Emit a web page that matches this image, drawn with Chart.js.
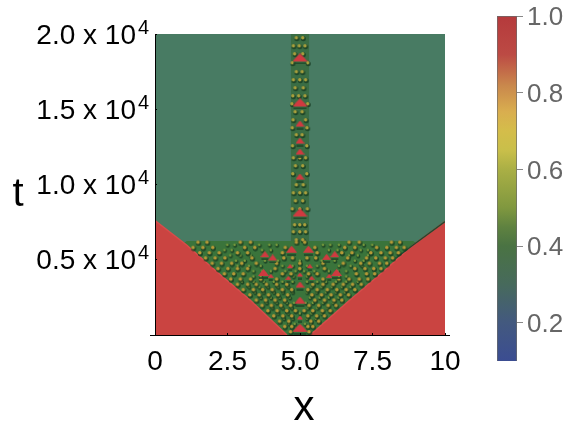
<!DOCTYPE html>
<html>
<head>
<meta charset="utf-8">
<script src="https://cdn.jsdelivr.net/npm/chart.js@4"></script>
<style>
  html, body { margin: 0; padding: 0; background: #fff; }
  #wrap { position: relative; width: 566px; height: 423px; overflow: hidden; }
  canvas { position: absolute; top: 0; }
  #main { left: 0; }
  #bar { left: 480px; }
</style>
</head>
<body>
<div id="wrap">
  <canvas id="main" width="566" height="423"></canvas>
  <canvas id="bar" width="86" height="423"></canvas>
</div>
<script>
// axes
const xTicks = [0, 2.5, 5, 7.5, 10];
const xTickLabels = ['0', '2.5', '5.0', '7.5', '10'];
const tTicks = [0, 5000, 10000, 15000, 20000];
const tTickLabels = ['', '0.5 x 10', '1.0 x 10', '1.5 x 10', '2.0 x 10'];
const tExponent = '4';

// red wedges, read along the edges
const leftEdgeX = [0, 1.09, 2.13, 3.28, 4.55];
const leftEdgeT = [7600, 5980, 4200, 2325, 0];
const rightEdgeX = [5.35, 6.72, 7.87, 8.9, 10];
const rightEdgeT = [0, 2325, 4200, 5980, 7530];
const darkEdgeX = [8.3, 8.9, 10];
const darkEdgeT = [5100, 5980, 7530];

// darker regions behind the dots
const bandX = [4.68, 5.32];
const bandT = [20000, 20000];
const coneX = [0.9, 1.1, 8.9, 9.1];
const coneT = [6000, 6250, 6250, 6000];
const fieldX = [0, 10];
const fieldT = [20000, 20000];

// dots in the cone, row by row
const coneRowT = [6150, 5800, 5450, 5100, 4750, 4400, 4050, 3700, 3350, 3000, 2650, 2300, 1950, 1600, 1250, 900, 550, 200];
const coneRowX = [
  [1.49, 1.80, 2.95, 3.3, 4.88, 5.17, 6.7, 7.05, 8.16, 8.45],
  [1.32, 1.66, 2.0, 3.1, 3.45, 4.5, 5.52, 6.55, 6.9, 7.65, 8.0, 8.33, 8.6],
  [1.55, 1.88, 2.22, 2.85, 3.2, 4.4, 5.6, 6.45, 6.8, 7.45, 7.8, 8.12, 8.4],
  [1.75, 2.08, 2.42, 3.35, 4.45, 4.75, 5.25, 5.55, 6.65, 7.3, 7.62, 7.95, 8.2],
  [1.98, 2.3, 2.65, 3.0, 3.5, 4.2, 5.0, 5.8, 6.5, 7.1, 7.4, 7.75, 8.0],
  [2.18, 2.52, 2.85, 3.2, 4.15, 5.0, 5.85, 6.9, 7.25, 7.55, 7.8],
  [2.4, 2.72, 3.05, 4.4, 4.7, 5.3, 5.6, 6.95, 7.3, 7.58],
  [2.62, 2.95, 3.3, 3.65, 4.2, 5.8, 6.35, 6.7, 7.05, 7.35],
  [2.85, 3.2, 3.5, 3.85, 4.2, 4.55, 5.45, 5.8, 6.15, 6.5, 6.82, 7.12],
  [3.05, 3.4, 3.72, 4.05, 4.4, 4.72, 5.28, 5.6, 5.95, 6.28, 6.6, 6.9],
  [3.28, 3.6, 3.92, 4.25, 4.58, 5.42, 5.75, 6.08, 6.4, 6.68],
  [3.5, 3.82, 4.15, 4.48, 5.52, 5.85, 6.18, 6.45],
  [3.7, 4.02, 4.35, 4.68, 5.32, 5.65, 5.98, 6.25],
  [3.9, 4.22, 4.55, 4.85, 5.15, 5.45, 5.78, 6.05],
  [4.1, 4.42, 4.72, 5.28, 5.58, 5.85],
  [4.3, 4.62, 5.38, 5.65],
  [4.48, 4.72, 5.28, 5.45],
  [4.68, 5.32]
];

// fainter dots between those rows
const dimRowT = [5975, 5625, 5275, 4925, 4575, 4225, 3875, 3525, 3175, 2825, 2475, 2125, 1775, 1425, 1075, 725];
const dimRowX = [
  [2.5, 2.75, 3.6, 3.95, 4.2, 5.8, 6.05, 6.35, 7.2, 7.5],
  [2.4, 2.65, 3.7, 4.0, 6.0, 6.3, 7.1, 7.35],
  [2.6, 2.95, 3.3, 6.7, 7.0, 7.35],
  [2.8, 3.1, 3.8, 4.25, 5.0, 5.75, 6.2, 6.9, 7.2],
  [2.85, 3.25, 3.65, 4.4, 4.75, 5.25, 5.6, 6.35, 6.75, 7.15],
  [3.4, 3.7, 4.0, 4.5, 4.85, 5.15, 5.5, 6.0, 6.3, 6.6],
  [3.4, 3.65, 4.78, 5.25, 6.35, 6.6],
  [3.0, 3.4, 3.75, 4.1, 4.4, 4.75, 5.25, 5.6, 5.9, 6.25, 6.6, 7.0],
  [3.25, 3.6, 3.9, 4.25, 4.6, 5.4, 5.75, 6.1, 6.45, 6.75],
  [3.45, 3.75, 4.1, 4.42, 4.75, 5.25, 5.58, 5.9, 6.25, 6.55],
  [3.65, 4.0, 4.3, 4.65, 5.35, 5.68, 6.0, 6.33],
  [3.85, 4.2, 4.55, 4.8, 5.2, 5.45, 5.8, 6.15],
  [4.05, 4.4, 4.72, 5.28, 5.6, 5.95],
  [4.25, 4.6, 5.0, 5.4, 5.75],
  [4.45, 4.75, 5.25, 5.55],
  [4.62, 4.82, 5.18, 5.38]
];

// dots in the vertical column
const columnRowT = [19735, 19200, 18670, 18075, 17480, 16945, 16410, 15880, 15350, 14820, 14285, 13755, 13290, 12560, 11760, 11230, 10700, 9970, 9435, 8900, 8370, 7310, 6845, 6310];
const columnRowX = [
  [4.88, 5.1], [4.78, 4.98, 5.18], [4.82, 5.1], [4.74, 5.27], [4.88, 5.08],
  [4.78, 5.0, 5.2], [4.84, 5.12], [4.76, 4.96, 5.18], [4.73, 5.27], [4.84, 5.08],
  [4.77, 5.2], [4.74, 5.25], [4.88, 5.08], [4.75, 5.24], [4.78, 5.0, 5.2],
  [4.85, 5.1], [4.76, 5.24], [4.88, 5.12], [4.78, 5.0, 5.2], [4.85, 5.1],
  [4.74, 5.0, 5.26], [4.82, 5.0, 5.17], [4.78, 5.0, 5.2], [4.88, 5.1]
];

// red peaks, by size
const bigPeakX = [5, 5, 5, 5];
const bigPeakT = [18340, 15350, 8040, 375];
const midPeak2X = [4.71, 5.29, 3.74, 6.26, 5];
const midPeak2T = [5600, 5600, 4050, 4050, 2215];
const midPeakX = [5, 5, 5, 5, 3.79, 4.06, 5.92, 6.2, 5];
const midPeakT = [13950, 12820, 12090, 10430, 5270, 5050, 5095, 5270, 3255];
const smallPeakX = [4.66, 5.34, 3.99, 6.01, 5, 4.6, 5.4, 5];
const smallPeakT = [4475, 4475, 3830, 3830, 3920, 3700, 3700, 1060];

// colour bar
const barRange = [0.1, 1.0];
const barTicks = [0.2, 0.4, 0.6, 0.8, 1.0];
const barStops = [0.1, 0.2, 0.3, 0.4, 0.45, 0.5, 0.6, 0.65, 0.7, 0.75, 0.82, 0.9, 1.0];
const barColors = ['#3b4d92', '#43597f', '#476a5c', '#4a7343', '#5f8240', '#80983f', '#aaaf45', '#c9bf4a', '#d4bd4a', '#d9ae4f', '#c9874c', '#bc4a44', '#b53a3c'];

const FONT = '"Liberation Sans", Arial, sans-serif';

function zip(xs, ts) {
  return xs.map((x, i) => ({ x: x, y: ts[i] }));
}
function rows(ts, xRows) {
  return ts.flatMap((t, i) => xRows[i].map(x => ({ x: x, y: t })));
}

// small sprites for the shaded marks
function dotSprite(color, r) {
  const c = document.createElement('canvas');
  c.width = 8; c.height = 8;
  const g = c.getContext('2d');
  g.fillStyle = 'rgba(22,58,32,0.75)';
  g.beginPath(); g.arc(4.4, 4.8, r + 0.8, 0, Math.PI * 2); g.fill();
  g.fillStyle = color;
  g.beginPath(); g.arc(3.8, 3.8, r, 0, Math.PI * 2); g.fill();
  return c;
}
function peakSprite(w, h) {
  const c = document.createElement('canvas');
  c.width = w; c.height = h + 3;
  const g = c.getContext('2d');
  g.fillStyle = '#cf3a40';
  g.beginPath();
  g.moveTo(0, h);
  g.quadraticCurveTo(w * 0.3, h * 0.3, w / 2, 0);
  g.quadraticCurveTo(w * 0.7, h * 0.3, w, h);
  g.closePath();
  g.fill();
  g.fillStyle = 'rgba(30,70,40,0.8)';
  g.fillRect(1, h + 1, w - 2, 2);
  return c;
}

function area(points, color, order, edge) {
  return { data: points, showLine: true, fill: 'start', backgroundColor: color, borderColor: edge || color, borderWidth: edge ? 1.5 : 0, pointRadius: 0, order: order };
}
function marks(points, sprite, order) {
  return { data: points, showLine: false, pointStyle: sprite, pointRadius: 4, order: order };
}

// "t", the x title and the exponents of the time ticks
const labelsPlugin = {
  id: 'labels',
  afterDraw(chart) {
    const c = chart.ctx, ys = chart.scales.y, xs = chart.scales.x;
    c.save();
    c.fillStyle = '#000';
    c.textAlign = 'center';
    c.textBaseline = 'middle';
    c.font = '40px ' + FONT;
    c.fillText('t', 18, 195);
    c.font = '42px ' + FONT;
    c.fillText('x', 304, 408);
    c.textAlign = 'left';
    c.font = '20px ' + FONT;
    tTicks.forEach((t, i) => {
      if (tTickLabels[i]) c.fillText(tExponent, 138, ys.getPixelForValue(t) - 6);
    });
    c.strokeStyle = '#000';
    c.lineWidth = 1;
    c.beginPath();
    c.moveTo(xs.left - 5, ys.bottom + 0.5);
    c.lineTo(xs.right + 5, ys.bottom + 0.5);
    c.stroke();
    c.restore();
  }
};

new Chart(document.getElementById('main'), {
  type: 'scatter',
  plugins: [labelsPlugin],
  data: {
    datasets: [
      area(zip(fieldX, fieldT), '#487b63', 9),
      area(zip(bandX, bandT), '#3a6d44', 8),
      area(zip(coneX, coneT), '#3a743b', 7),
      area(zip(leftEdgeX, leftEdgeT), '#ca4441', 6, '#d84c4a'),
      area(zip(rightEdgeX, rightEdgeT), '#ca4441', 6, '#d84c4a'),
      { data: zip(darkEdgeX, darkEdgeT), showLine: true, fill: false, borderColor: '#24492f', borderWidth: 1.5, pointRadius: 0, order: 5 },
      marks(rows(dimRowT, dimRowX), dotSprite('#7d9d3e', 1.2), 4),
      marks(rows(coneRowT, coneRowX), dotSprite('#b69a38', 1.8), 3),
      marks(rows(columnRowT, columnRowX), dotSprite('#a9a03e', 1.7), 3),
      marks(zip(bigPeakX, bigPeakT), peakSprite(15, 8), 1),
      marks(zip(midPeak2X, midPeak2T), peakSprite(11, 7), 1),
      marks(zip(midPeakX, midPeakT), peakSprite(9, 6), 1),
      marks(zip(smallPeakX, smallPeakT), peakSprite(6, 4), 1)
    ]
  },
  options: {
    responsive: false,
    animation: false,
    layout: { padding: { top: 34, right: 121, left: 0, bottom: 0 } },
    plugins: { legend: { display: false }, tooltip: { enabled: false } },
    scales: {
      x: {
        type: 'linear',
        min: 0,
        max: 10,
        afterFit(s) { s.height = 88; s.paddingLeft = 0; s.paddingRight = 0; },
        afterBuildTicks(s) { s.ticks = xTicks.map(v => ({ value: v })); },
        border: { display: false },
        grid: { drawOnChartArea: false, tickLength: -2, color: '#000', z: 1 },
        ticks: {
          autoSkip: false, maxRotation: 0, padding: 12, color: '#000',
          font: { family: FONT, size: 28 },
          callback: (v, i) => xTickLabels[i]
        }
      },
      y: {
        type: 'linear',
        min: 0,
        max: 20000,
        afterFit(s) { s.width = 155; s.paddingTop = 0; s.paddingBottom = 0; },
        afterBuildTicks(s) { s.ticks = tTicks.map(v => ({ value: v })); },
        border: { display: true, color: '#000', width: 1, z: 1 },
        grid: { drawOnChartArea: false, tickLength: -2, color: '#000', z: 1 },
        ticks: {
          autoSkip: false, padding: 21, labelOffset: 2, color: '#000',
          font: { family: FONT, size: 28 },
          callback: (v, i) => tTickLabels[i]
        }
      }
    }
  }
});

// colour bar, one floating bar painted with the bar colours
function barGradient(ctx) {
  const chart = ctx.chart;
  if (!chart.chartArea) return barColors[0];
  const y = chart.scales.y;
  const g = chart.ctx.createLinearGradient(0, y.getPixelForValue(barRange[0]), 0, y.getPixelForValue(barRange[1]));
  barStops.forEach((v, i) => g.addColorStop((v - barRange[0]) / (barRange[1] - barRange[0]), barColors[i]));
  return g;
}

new Chart(document.getElementById('bar'), {
  type: 'bar',
  data: {
    labels: [''],
    datasets: [{ data: [barRange], backgroundColor: barGradient, borderColor: '#6b6b6b', borderWidth: 1, barPercentage: 1, categoryPercentage: 1 }]
  },
  options: {
    responsive: false,
    animation: false,
    layout: { padding: { top: 16, bottom: 62, left: 17, right: 0 } },
    plugins: { legend: { display: false }, tooltip: { enabled: false } },
    scales: {
      x: { display: false },
      y: {
        position: 'right',
        min: barRange[0],
        max: barRange[1],
        afterFit(s) { s.width = 49; s.paddingTop = 0; s.paddingBottom = 0; },
        afterBuildTicks(s) { s.ticks = barTicks.map(v => ({ value: v })); },
        border: { display: false },
        grid: { drawOnChartArea: false, tickLength: 6, color: '#888' },
        ticks: {
          padding: 4, labelOffset: 2, color: '#666',
          font: { family: FONT, size: 26 },
          callback: v => v.toFixed(1)
        }
      }
    }
  }
});
</script>
</body>
</html>
